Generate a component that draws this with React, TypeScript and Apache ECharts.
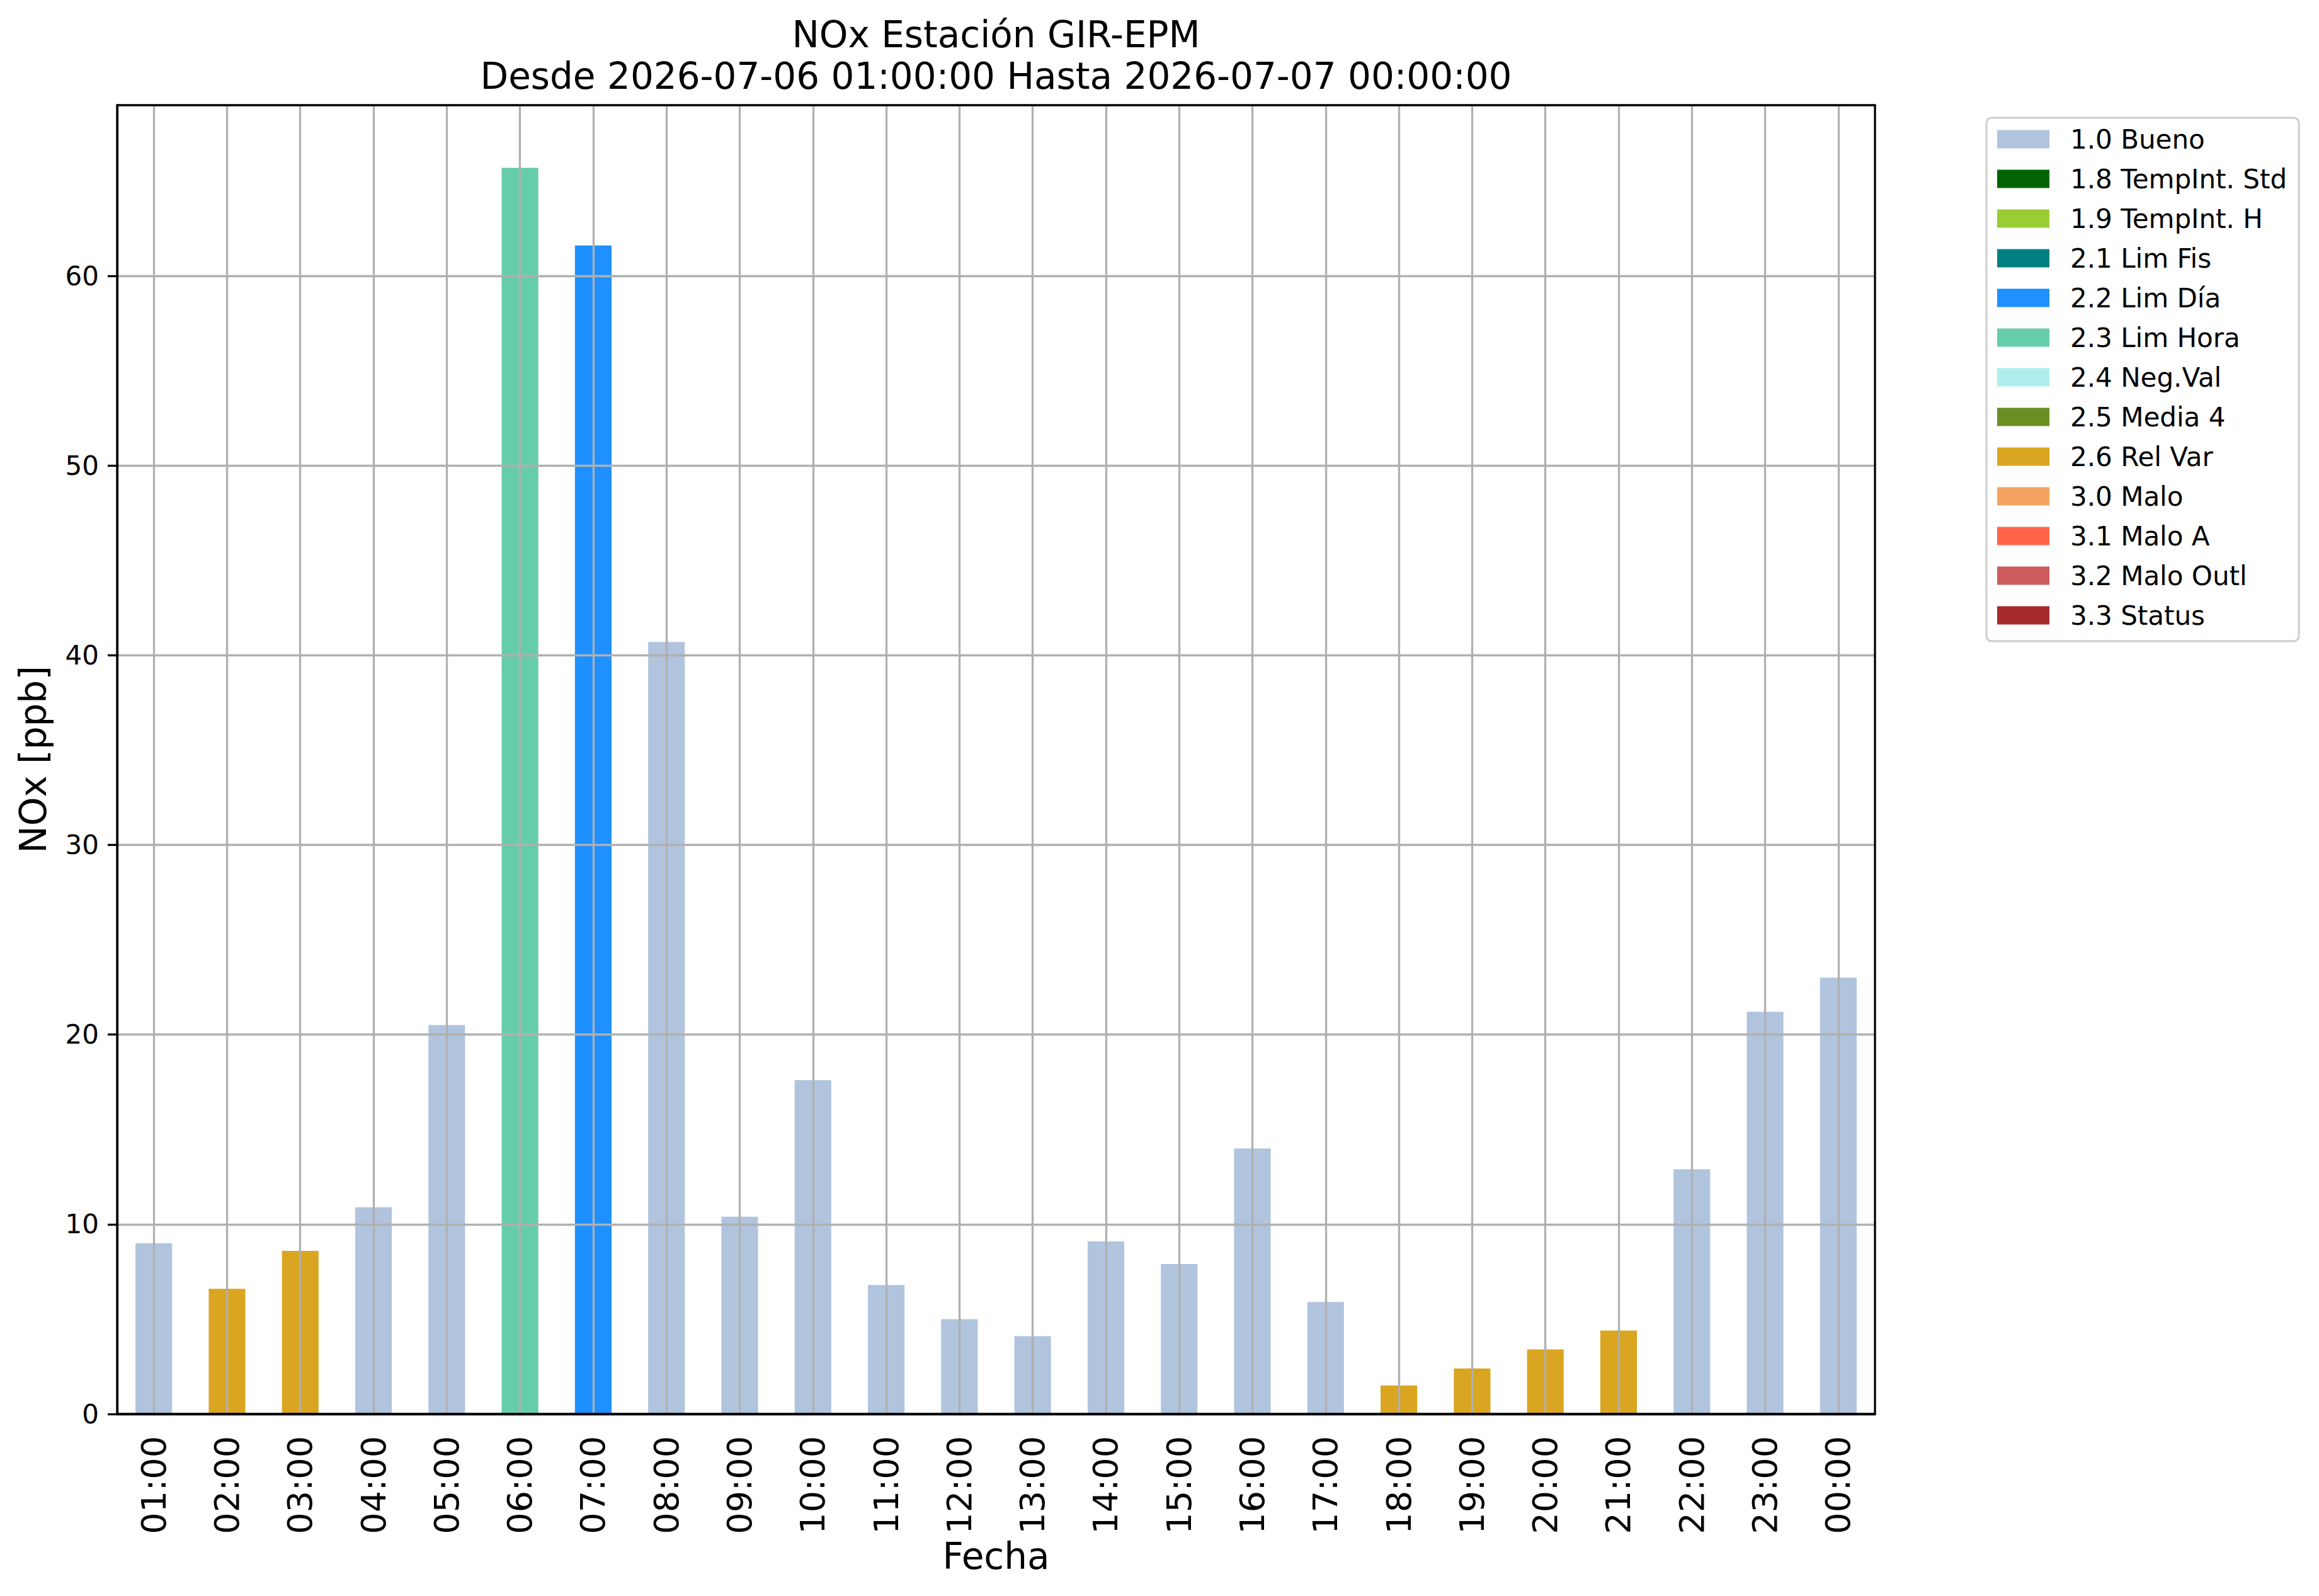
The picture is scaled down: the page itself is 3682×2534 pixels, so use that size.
import React, { useEffect, useRef } from "react";
import * as echarts from "echarts";

const categories = [
  "01:00", "02:00", "03:00", "04:00", "05:00", "06:00", "07:00", "08:00",
  "09:00", "10:00", "11:00", "12:00", "13:00", "14:00", "15:00", "16:00",
  "17:00", "18:00", "19:00", "20:00", "21:00", "22:00", "23:00", "00:00",
];

const values = [
  9.0, 6.6, 8.6, 10.9, 20.5, 65.7, 61.6, 40.7,
  10.4, 17.6, 6.8, 5.0, 4.1, 9.1, 7.9, 14.0,
  5.9, 1.5, 2.4, 3.4, 4.4, 12.9, 21.2, 23.0,
];

const flags = [
  "1.0", "2.6", "2.6", "1.0", "1.0", "2.3", "2.2", "1.0",
  "1.0", "1.0", "1.0", "1.0", "1.0", "1.0", "1.0", "1.0",
  "1.0", "2.6", "2.6", "2.6", "2.6", "1.0", "1.0", "1.0",
];

const flagCodes = ["1.0", "1.8", "1.9", "2.1", "2.2", "2.3", "2.4", "2.5", "2.6", "3.0", "3.1", "3.2", "3.3"];
const flagNames = [
  "1.0 Bueno", "1.8 TempInt. Std", "1.9 TempInt. H", "2.1 Lim Fis", "2.2 Lim Día",
  "2.3 Lim Hora", "2.4 Neg.Val", "2.5 Media 4", "2.6 Rel Var", "3.0 Malo",
  "3.1 Malo A", "3.2 Malo Outl", "3.3 Status",
];
const flagColors = [
  "#B0C4DE", "#006400", "#9ACD32", "#008080", "#1E90FF",
  "#66CDAA", "#AFEEEE", "#6B8E23", "#DAA520", "#F4A460",
  "#FF6347", "#CD5C5C", "#A52A2A",
];

const yTicks = [0, 10, 20, 30, 40, 50, 60];
const yMax = 69;

const titleLine1 = "NOx Estación GIR-EPM";
const titleLine2 = "Desde 2026-07-06 01:00:00 Hasta 2026-07-07 00:00:00";
const xName = "Fecha";
const yName = "NOx [ppb]";

const FONT = "DejaVu Sans";
const GRID = { left: 186, right: 705, top: 167, bottom: 289 };
const W = 3682;
const H = 2534;

export default function App() {
  const ref = useRef<HTMLDivElement>(null);

  useEffect(() => {
    document.body.style.margin = "0";
    if (!ref.current) return;
    const chart = echarts.init(ref.current, undefined, { renderer: "svg" });

    const plotW = W - GRID.left - GRID.right;
    const plotH = H - GRID.top - GRID.bottom;
    const cx = GRID.left + plotW / 2;

    const series = flagCodes.map((code, k) => ({
      name: flagNames[k],
      type: "bar",
      stack: "all",
      barWidth: "50%",
      itemStyle: { color: flagColors[k] },
      data: values.map((v, i) => (flags[i] === code ? v : null)),
    }));

    const option: any = {
      animation: false,
      backgroundColor: "#ffffff",
      textStyle: { fontFamily: FONT },
      grid: { ...GRID, containLabel: false },
      legend: {
        orient: "vertical",
        left: 3154,
        top: 187,
        padding: [13, 19, 20, 17],
        itemGap: 21,
        itemWidth: 83,
        itemHeight: 29,
        icon: "rect",
        borderColor: "#cccccc",
        borderWidth: 3,
        borderRadius: 8,
        backgroundColor: "#ffffff",
        textStyle: {
          fontFamily: FONT,
          fontSize: 42,
          lineHeight: 42,
          color: "#000",
          padding: [0, 0, 0, 28],
        },
        data: flagNames,
      },
      xAxis: {
        type: "category",
        data: categories,
        boundaryGap: true,
        z: 5,
        axisLine: { lineStyle: { color: "#000", width: 3.3 } },
        axisTick: { alignWithLabel: true, length: 15, lineStyle: { color: "#000", width: 3.3 } },
        axisLabel: {
          rotate: 90,
          interval: 0,
          margin: 35,
          fontSize: 54,
          fontFamily: FONT,
          color: "#000",
        },
        splitLine: { show: true, alignWithLabel: true, lineStyle: { color: "#b0b0b0", width: 3.3 } },
      },
      yAxis: {
        type: "value",
        min: 0,
        max: yMax,
        interval: 10,
        z: 5,
        axisLine: { show: true, lineStyle: { color: "#000", width: 3.3 } },
        axisTick: { show: true, length: 15, customValues: yTicks, lineStyle: { color: "#000", width: 3.3 } },
        axisLabel: {
          customValues: yTicks,
          margin: 29,
          fontSize: 42,
          fontFamily: FONT,
          color: "#000",
          formatter: (v: number) => (v > 60 ? "" : String(v)),
        },
        splitLine: { show: true, lineStyle: { color: "#b0b0b0", width: 3.3 } },
      },
      graphic: [
        {
          type: "rect",
          z: 100,
          silent: true,
          shape: { x: GRID.left, y: GRID.top, width: plotW, height: plotH },
          style: { fill: "none", stroke: "#000", lineWidth: 3.3 },
        },
        {
          type: "text",
          x: cx,
          y: 55,
          style: { text: titleLine1, fontSize: 58, fontFamily: FONT, fill: "#000", textAlign: "center", textVerticalAlign: "middle" },
        },
        {
          type: "text",
          x: cx,
          y: 121,
          style: { text: titleLine2, fontSize: 58, fontFamily: FONT, fill: "#000", textAlign: "center", textVerticalAlign: "middle" },
        },
        {
          type: "text",
          x: cx,
          y: 2471,
          style: { text: xName, fontSize: 58, fontFamily: FONT, fill: "#000", textAlign: "center", textVerticalAlign: "middle" },
        },
        {
          type: "text",
          x: 53,
          y: GRID.top + plotH / 2,
          rotation: Math.PI / 2,
          style: { text: yName, fontSize: 58, fontFamily: FONT, fill: "#000", textAlign: "center", textVerticalAlign: "middle" },
        },
      ],
      series,
    };

    chart.setOption(option);
    return () => chart.dispose();
  }, []);

  return (
    <div
      ref={ref}
      style={{ position: "fixed", left: 0, top: 0, width: W, height: H, background: "#fff" }}
    />
  );
}
